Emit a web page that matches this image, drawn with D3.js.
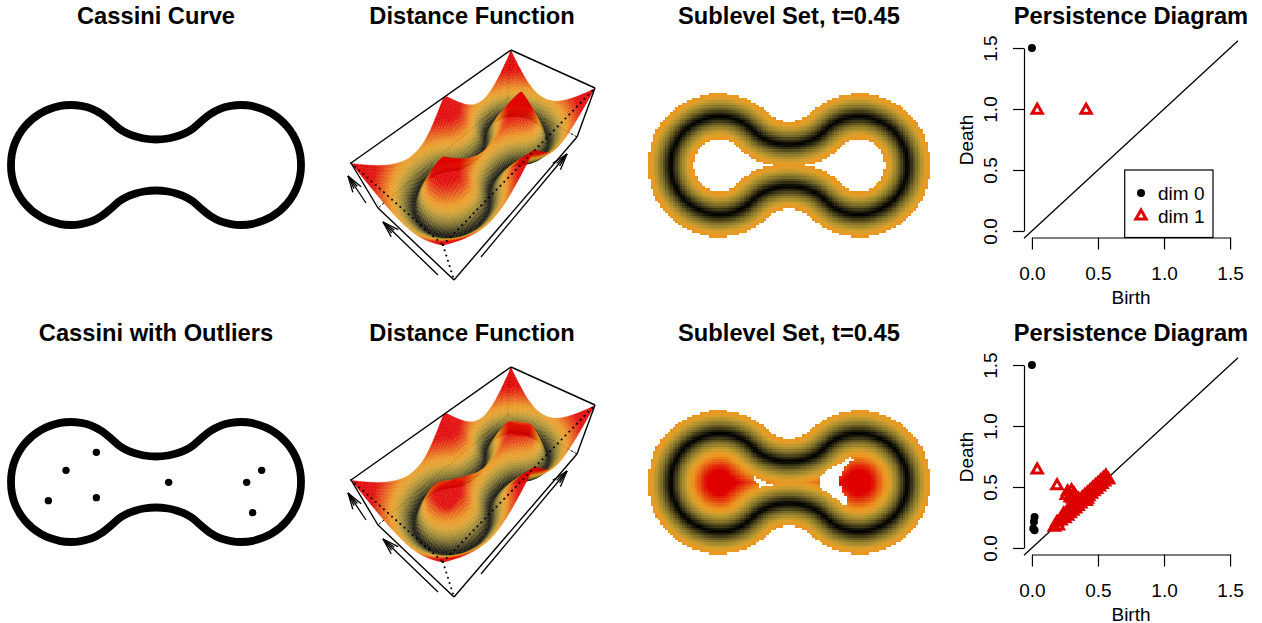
<!DOCTYPE html>
<html>
<head>
<meta charset="utf-8">
<script src="https://cdn.jsdelivr.net/npm/d3@7"></script>
<style>
    body { margin: 0; background: #fff; }
    text { font-family: "Liberation Sans", Arial, sans-serif; fill: #000; }
</style>
</head>
<body>
<div id="chart"></div>
<script>
// Cassini curve, upper right quadrant (x to the right, y up)
const cassiniX = [2.417, 2.36, 2.186, 1.92, 1.594, 1.42, 1.25, 1.078, 0.9, 0.75, 0.62, 0.5, 0.35, 0.2, 0];
const cassiniY = [0, 0.342, 0.643, 0.866, 0.985, 1.0, 0.985, 0.94, 0.845, 0.725, 0.612, 0.537, 0.478, 0.442, 0.425];

// Outliers of the lower left panel
const outlierX = [-1.794, -1.5, -0.994, -0.994, 0.211, 1.511, 1.761, 1.611];
const outlierY = [-0.311, 0.194, 0.494, -0.261, -0.006, -0.006, 0.194, -0.511];

// White holes in the lower sublevel set
const holeRightX = [0.633, 0.802, 1.04, 1.21, 1.435, 1.21, 1.075, 1.027, 1.075, 1.21, 1.122, 0.973, 0.802, 0.633];
const holeRightY = [0.122, 0.279, 0.381, 0.503, 0.49, 0.414, 0.21, 0.006, -0.197, -0.367, -0.517, -0.367, -0.218, -0.129];
const holeLeftX = [-0.782, -0.673, -0.537, -0.32, -0.32, -0.524, -0.592, -0.66];
const holeLeftY = [0.095, 0.109, 0.007, -0.027, -0.068, -0.061, -0.129, -0.027];

// Persistence diagrams
const topDim0Birth = [0];
const topDim0Death = [1.5];
const topDim1Birth = [0.04, 0.41];
const topDim1Death = [0.99, 0.99];
const lowDim0Birth = [0, 0.02, 0.015, 0.01, 0.02];
const lowDim0Death = [1.5, 0.255, 0.215, 0.16, 0.146];
const lowDim1Birth = [0.04, 0.19, 0.17, 0.2, 0.19, 0.22, 0.23, 0.25, 0.24, 0.27, 0.26, 0.29, 0.28, 0.31, 0.3, 0.33, 0.32, 0.35, 0.34, 0.37, 0.36, 0.39, 0.38, 0.41, 0.42, 0.4, 0.43, 0.42, 0.45, 0.44, 0.47, 0.46, 0.49, 0.48, 0.51, 0.5, 0.53, 0.52, 0.55, 0.54, 0.57, 0.56, 0.58, 0.26, 0.27, 0.29, 0.3, 0.32, 0.33, 0.35, 0.31, 0.29];
const lowDim1Death = [0.64, 0.51, 0.17, 0.18, 0.21, 0.22, 0.25, 0.24, 0.28, 0.26, 0.29, 0.28, 0.31, 0.3, 0.33, 0.32, 0.36, 0.34, 0.37, 0.36, 0.39, 0.38, 0.41, 0.38, 0.4, 0.43, 0.42, 0.45, 0.44, 0.47, 0.46, 0.49, 0.48, 0.51, 0.5, 0.53, 0.52, 0.55, 0.54, 0.57, 0.56, 0.59, 0.56, 0.43, 0.46, 0.43, 0.47, 0.44, 0.42, 0.4, 0.4, 0.41];

const diagramTicks = [0, 0.5, 1, 1.5];
const legendLabels = ["dim 0", "dim 1"];

// Height to colour
const colorStops = [0, 0.025, 0.1, 0.18, 0.29, 0.37, 0.45, 0.52, 0.62, 0.75];
const colorValues = ["#000000", "#0c0b06", "#403a18", "#7a6c28", "#b5952f", "#e09f29", "#eb9721", "#e97518", "#e5400f", "#e00000"];

const titleRows = [
    ["Cassini Curve", "Distance Function", "Sublevel Set, t=0.45", "Persistence Diagram"],
    ["Cassini with Outliers", "Distance Function", "Sublevel Set, t=0.45", "Persistence Diagram"]
];

const red = "#dd0000";
const rowOffset = 317;
const threshold = 0.46;

const svg = d3.select("#chart").append("svg")
    .attr("width", 1262)
    .attr("height", 623);

const color = d3.scaleLinear().domain(colorStops).range(colorValues).clamp(true);

// Build the closed curve from the quadrant
const quadrant = cassiniX.map((x, i) => [x, cassiniY[i]]);
const upperLeft = quadrant.slice(0, -1).reverse().map(p => [-p[0], p[1]]);
const upperHalf = quadrant.concat(upperLeft);
const lowerHalf = upperHalf.slice(1, -1).reverse().map(p => [p[0], -p[1]]);
const curvePoints = upperHalf.concat(lowerHalf);
const outliers = outlierX.map((x, i) => [x, outlierY[i]]);
const holes = [
    holeRightX.map((x, i) => [x, holeRightY[i]]),
    holeLeftX.map((x, i) => [x, holeLeftY[i]])
];

// Sample the smoothed curve, the distance function is measured against these
const smoothCurve = d3.line().curve(d3.curveCatmullRomClosed.alpha(0.5));
const probe = svg.append("path").attr("d", smoothCurve(curvePoints)).attr("fill", "none");
const probeLength = probe.node().getTotalLength();
const curveSamples = d3.range(0, probeLength, probeLength / 500).map(l => {
    const p = probe.node().getPointAtLength(l);
    return [p.x, p.y];
});
probe.remove();

function distanceToCurve(x, y) {
    return Math.sqrt(d3.min(curveSamples, p => (p[0] - x) ** 2 + (p[1] - y) ** 2));
}

// Distance once the outliers pull the inside of the lobes down
function outlierField(x, y) {
    const d = distanceToCurve(x, y);
    if (!d3.polygonContains(curveSamples, [x, y])) return d;
    const nearest = d3.min(outliers, p => (p[0] - x) ** 2 + (p[1] - y) ** 2);
    return Math.min(d, Math.sqrt(0.5 * 0.5 + 0.8 * nearest));
}

// --- titles ---
const titleCenters = [156, 472, 789, 1131];
titleRows.forEach((row, r) => {
    row.forEach((label, c) => {
        svg.append("text")
            .attr("x", titleCenters[c])
            .attr("y", 24 + r * rowOffset)
            .attr("text-anchor", "middle")
            .attr("font-size", 23.7)
            .attr("font-weight", "bold")
            .text(label);
    });
});

// --- first column ---
function drawCurvePanel(cy, withOutliers) {
    const x = d3.scaleLinear().domain([-2.6, 2.6]).range([156 - 156, 156 + 156]);
    const y = d3.scaleLinear().domain([-2, 2]).range([cy + 120, cy - 120]);
    const line = d3.line().x(d => x(d[0])).y(d => y(d[1])).curve(d3.curveCatmullRomClosed.alpha(0.5));

    svg.append("path")
        .attr("d", line(curvePoints))
        .attr("fill", "none")
        .attr("stroke", "#000")
        .attr("stroke-width", 7.8);

    if (withOutliers) {
        svg.selectAll(null).data(outliers).join("circle")
            .attr("cx", d => x(d[0]))
            .attr("cy", d => y(d[1]))
            .attr("r", 3.7)
            .attr("fill", "#000");
    }
}

// --- third column ---
function drawSublevelPanel(cy, withOutliers) {
    const step = 0.05;
    const x = d3.scaleLinear().domain([-3, 3]).range([789 - 147, 789 + 147]);
    const y = d3.scaleLinear().domain([-2, 2]).range([cy + 98, cy - 98]);
    const cells = [];
    d3.range(-3, 3, step).forEach(cx => {
        d3.range(-2, 2, step).forEach(cy2 => {
            const d = distanceToCurve(cx, cy2);
            let keep = d <= threshold;
            if (withOutliers && !keep && d3.polygonContains(curveSamples, [cx, cy2])) keep = true;
            if (withOutliers && holes.some(h => d3.polygonContains(h, [cx, cy2]))) keep = false;
            if (keep) cells.push({ x: cx, y: cy2, d: d });
        });
    });
    svg.append("g").attr("shape-rendering", "crispEdges")
        .selectAll("rect").data(cells).join("rect")
        .attr("x", d => x(d.x - step / 2))
        .attr("y", d => y(d.y + step / 2))
        .attr("width", x(step) - x(0) + 0.4)
        .attr("height", y(0) - y(step) + 0.4)
        .attr("fill", d => color(d.d));
}

// --- second column, the box is drawn in perspective from its eight corners ---
const boxBottom = [[454, 280], [577, 137], [508, 98], [378, 208]];
const boxTop = [[443, 245], [595, 88], [511, 50], [351, 163]];
const depthSlope = { u: 0.44, v: 0.2, w: -0.12 };

function project(u, v, w, dy) {
    const depth = (a, b, c) => 1 + depthSlope.u * a + depthSlope.v * b + depthSlope.w * c;
    const unit = [[0, 0], [1, 0], [1, 1], [0, 1]];
    let sx = 0, sy = 0, sw = 0;
    [[boxBottom, 0, 1 - w], [boxTop, 1, w]].forEach(([ring, level, lw]) => {
        ring.forEach((p, i) => {
            const a = unit[i][0], b = unit[i][1];
            const t = (a ? u : 1 - u) * (b ? v : 1 - v) * lw * depth(a, b, level);
            sx += t * p[0];
            sy += t * p[1];
            sw += t;
        });
    });
    return [sx / sw, sy / sw + dy];
}

function drawArrow(group, from, to, dy) {
    const a = [from[0], from[1] + dy], b = [to[0], to[1] + dy];
    const angle = Math.atan2(b[1] - a[1], b[0] - a[0]);
    const barb = (len, spread) => [b[0] - len * Math.cos(angle - spread), b[1] - len * Math.sin(angle - spread)];
    const segs = [
        [a, b],
        [barb(17, 0.3), b],
        [barb(17, -0.3), b],
        [barb(14, 0.14), b],
        [barb(14, -0.14), b]
    ];
    group.selectAll(null).data(segs).join("line")
        .attr("x1", d => d[0][0]).attr("y1", d => d[0][1])
        .attr("x2", d => d[1][0]).attr("y2", d => d[1][1])
        .attr("stroke", "#000")
        .attr("stroke-width", 1.3);
}

function drawSurfacePanel(dy, field) {
    const g = svg.append("g");
    const xLim = 2.8, yLim = 1.4;
    const step = 0.056;
    const xs = d3.range(-xLim, xLim + step / 2, step);
    const ys = d3.range(-yLim, yLim + step / 2, step);
    const heights = xs.map(x => ys.map(y => field(x, y)));
    // the colours follow the plain distance, also where the outliers dent the surface
    const shades = xs.map(x => ys.map(y => distanceToCurve(x, y)));
    const zMax = d3.max(heights, h => d3.max(h));
    const u = d3.scaleLinear().domain([-xLim, xLim]).range([0, 1]);
    const v = d3.scaleLinear().domain([-yLim, yLim]).range([0, 1]);
    const w = d3.scaleLinear().domain([0, zMax]).range([0, 1]);

    const edge = (a, b, style) => {
        const p = project(a[0], a[1], a[2], dy), q = project(b[0], b[1], b[2], dy);
        const l = g.append("line")
            .attr("x1", p[0]).attr("y1", p[1]).attr("x2", q[0]).attr("y2", q[1])
            .attr("stroke", "#000")
            .attr("stroke-width", 1.4);
        if (style === "dash") l.attr("stroke-dasharray", "3 1.5").attr("stroke-width", 1);
        if (style === "dot") l.attr("stroke-dasharray", "0.1 5.4").attr("stroke-linecap", "round").attr("stroke-width", 2);
    };

    // hidden edges go under the surface
    edge([1, 1, 0], [0, 1, 0], "dash");
    edge([1, 1, 0], [1, 0, 0], "dash");
    edge([1, 1, 0], [1, 1, 1], "dash");

    // painter's order, from the far corner to the near one
    const quads = [];
    for (let i = xs.length - 2; i >= 0; i--) {
        for (let j = ys.length - 2; j >= 0; j--) {
            const corner = (a, b) => project(u(xs[a]), v(ys[b]), w(heights[a][b]), dy);
            quads.push({
                points: [corner(i, j), corner(i + 1, j), corner(i + 1, j + 1), corner(i, j + 1)],
                z: (shades[i][j] + shades[i + 1][j] + shades[i + 1][j + 1] + shades[i][j + 1]) / 4
            });
        }
    }
    g.append("g").selectAll("polygon").data(quads).join("polygon")
        .attr("points", d => d.points.map(p => p.join(",")).join(" "))
        .attr("fill", d => color(d.z * 1.1))
        .attr("fill-opacity", 0.95)
        .attr("stroke", d => color(d.z * 1.1))
        .attr("stroke-opacity", 0.6)
        .attr("stroke-width", 0.4);

    edge([0, 1, 1], [1, 1, 1]);
    edge([1, 1, 1], [1, 0, 1]);
    edge([1, 0, 1], [1, 0, 0]);
    edge([1, 0, 0], [0, 0, 0]);
    edge([0, 0, 0], [0, 1, 0]);
    edge([0, 1, 0], [0, 1, 1]);
    edge([0, 1, 1], [0, 0, 1], "dot");
    edge([0, 0, 1], [1, 0, 1], "dot");
    edge([0, 0, 1], [0, 0, 0], "dot");

    drawArrow(g, [366, 203], [348, 176], dy);
    drawArrow(g, [438, 275], [383, 222], dy);
    drawArrow(g, [481, 257], [567, 154], dy);
}

// --- fourth column ---
function drawDiagram(dy, dim0Birth, dim0Death, dim1Birth, dim1Death, withLegend) {
    const g = svg.append("g");
    const x = d3.scaleLinear().domain([-0.06, 1.56]).range([1024, 1238]);
    const y = d3.scaleLinear().domain([-0.06, 1.56]).range([238.3 + dy, 40.7 + dy]);

    const xAxisScale = d3.scaleLinear().domain([0, 1.5]).range([x(0), x(1.5)]);
    const yAxisScale = d3.scaleLinear().domain([0, 1.5]).range([y(0), y(1.5)]);

    const xAxis = g.append("g")
        .attr("transform", `translate(0,${237.5 + dy})`)
        .call(d3.axisBottom(xAxisScale).tickValues(diagramTicks).tickFormat(d3.format(".1f")).tickSize(12).tickSizeOuter(0));
    xAxis.selectAll("text")
        .attr("y", 42.5)
        .attr("dy", 0)
        .attr("font-size", 19);

    const yAxis = g.append("g")
        .attr("transform", "translate(1024,0)")
        .call(d3.axisLeft(yAxisScale).tickValues(diagramTicks).tickFormat(d3.format(".1f")).tickSize(11).tickSizeOuter(0));
    yAxis.selectAll("text")
        .attr("transform", "rotate(-90)")
        .attr("x", 0)
        .attr("y", -27)
        .attr("dy", 0)
        .attr("text-anchor", "middle")
        .attr("font-size", 19);

    g.selectAll(".domain, .tick line").attr("stroke", "#000").attr("stroke-width", 1.2);
    g.selectAll(".tick text").style("font-family", '"Liberation Sans", Arial, sans-serif');

    g.append("text")
        .attr("x", 1131)
        .attr("y", 303.5 + dy)
        .attr("text-anchor", "middle")
        .attr("font-size", 19)
        .text("Birth");
    g.append("text")
        .attr("transform", `translate(973,${140 + dy}) rotate(-90)`)
        .attr("text-anchor", "middle")
        .attr("font-size", 19)
        .text("Death");

    g.append("line")
        .attr("x1", x(-0.06)).attr("y1", y(-0.06))
        .attr("x2", x(1.56)).attr("y2", y(1.56))
        .attr("stroke", "#000")
        .attr("stroke-width", 1.3);

    const triangle = d3.symbol().type(d3.symbolTriangle).size(46);

    g.selectAll(null).data(dim1Birth.map((b, i) => [b, dim1Death[i]])).join("path")
        .attr("d", triangle)
        .attr("transform", d => `translate(${x(d[0])},${y(d[1])})`)
        .attr("fill", "none")
        .attr("stroke", red)
        .attr("stroke-width", 3);

    g.selectAll(null).data(dim0Birth.map((b, i) => [b, dim0Death[i]])).join("circle")
        .attr("cx", d => x(d[0]))
        .attr("cy", d => y(d[1]))
        .attr("r", 4)
        .attr("fill", "#000");

    if (withLegend) {
        g.append("rect")
            .attr("x", 1124.7).attr("y", 170)
            .attr("width", 88.3).attr("height", 67.5)
            .attr("fill", "#fff")
            .attr("stroke", "#000")
            .attr("stroke-width", 1.2);
        g.append("circle").attr("cx", 1141).attr("cy", 193).attr("r", 4).attr("fill", "#000");
        g.append("path")
            .attr("d", triangle)
            .attr("transform", "translate(1141,216)")
            .attr("fill", "none")
            .attr("stroke", red)
            .attr("stroke-width", 3);
        legendLabels.forEach((label, i) => {
            g.append("text")
                .attr("x", 1158)
                .attr("y", 200 + i * 23)
                .attr("font-size", 19)
                .text(label);
        });
    }
}

drawCurvePanel(165, false);
drawCurvePanel(482, true);
drawSurfacePanel(0, distanceToCurve);
drawSurfacePanel(317, outlierField);
drawSublevelPanel(165, false);
drawSublevelPanel(482, true);
drawDiagram(0, topDim0Birth, topDim0Death, topDim1Birth, topDim1Death, true);
drawDiagram(rowOffset, lowDim0Birth, lowDim0Death, lowDim1Birth, lowDim1Death, false);
</script>
</body>
</html>
